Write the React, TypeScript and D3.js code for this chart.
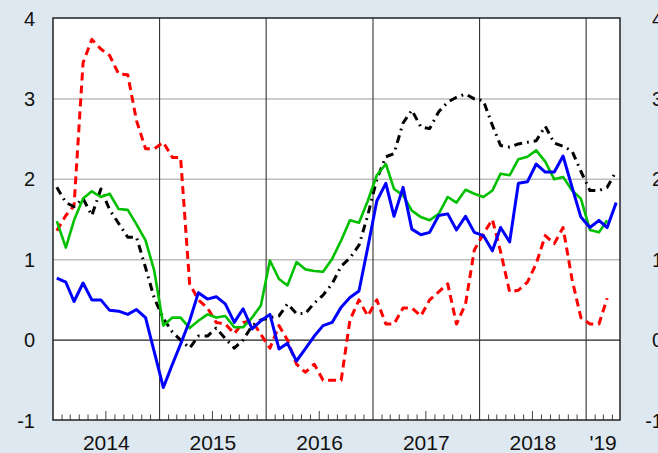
import { useEffect, useRef } from 'react'
import * as d3 from 'd3'

// monthly values, Jan 2014 onwards
const startYear = 2014
const redSeries = [
  1.36, 1.55, 1.67, 3.45, 3.74, 3.62, 3.54, 3.31, 3.3, 2.73, 2.38, 2.38,
  2.46, 2.27, 2.27, 0.7, 0.5, 0.4, 0.22, 0.2, 0.08, 0.22, 0.24, 0.07,
  -0.1, 0.18, 0.0, -0.3, -0.4, -0.3, -0.5, -0.5, -0.5, 0.25, 0.5, 0.3,
  0.5, 0.2, 0.2, 0.4, 0.4, 0.3, 0.5, 0.6, 0.7, 0.2, 0.45, 1.12,
  1.32, 1.5, 1.1, 0.6, 0.62, 0.72, 0.95, 1.3, 1.2, 1.4, 0.75, 0.28,
  0.2, 0.2, 0.52,
]
const blackSeries = [
  1.9, 1.71, 1.66, 1.76, 1.55, 1.88, 1.62, 1.45, 1.28, 1.28, 0.9, 0.52,
  0.27, 0.1, 0.0, -0.1, 0.05, 0.05, 0.15, 0.02, -0.1, 0.0, 0.18, 0.25,
  0.28, 0.3, 0.45, 0.33, 0.33, 0.46, 0.56, 0.7, 0.92, 1.02, 1.18, 1.55,
  2.0, 2.28, 2.32, 2.7, 2.86, 2.65, 2.63, 2.84, 2.96, 3.02, 3.06, 3.0,
  2.98, 2.67, 2.42, 2.4, 2.44, 2.46, 2.48, 2.66, 2.45, 2.41, 2.35, 2.1,
  1.86, 1.86, 1.9, 2.1,
]
const greenSeries = [
  1.48, 1.15, 1.49, 1.76, 1.85, 1.78, 1.82, 1.63, 1.62, 1.44, 1.24, 0.86,
  0.18, 0.28, 0.28, 0.15, 0.24, 0.32, 0.28, 0.3, 0.16, 0.16, 0.28, 0.43,
  0.99, 0.76, 0.68, 0.97, 0.88, 0.86, 0.85, 1.01, 1.24, 1.49, 1.46, 1.73,
  2.05, 2.19, 1.88, 1.8, 1.61, 1.53, 1.49, 1.57, 1.78, 1.71, 1.87, 1.82,
  1.78, 1.86, 2.07, 2.05, 2.25, 2.28, 2.36, 2.22, 2.0, 2.03, 1.86, 1.76,
  1.37, 1.34, 1.49,
]
const blueSeries = [
  0.77, 0.72, 0.48, 0.71, 0.5, 0.5, 0.37, 0.36, 0.32, 0.38, 0.28, -0.15,
  -0.59, -0.3, -0.05, 0.24, 0.59, 0.51, 0.54, 0.45, 0.22, 0.39, 0.14, 0.24,
  0.32, -0.11, -0.04, -0.26, -0.11, 0.05, 0.18, 0.22, 0.41, 0.53, 0.61, 1.15,
  1.73, 1.95, 1.54, 1.9, 1.38, 1.31, 1.34, 1.55, 1.57, 1.37, 1.54, 1.34,
  1.3, 1.11, 1.4, 1.22, 1.95, 1.97, 2.19, 2.09, 2.09, 2.29, 1.9, 1.53,
  1.4, 1.49, 1.4, 1.71,
]
const yTicks = [-1, 0, 1, 2, 3, 4]
const yearLabels = ['2014', '2015', '2016', '2017', '2018', "'19"]

const W = 658
const H = 453
const margin = { left: 53, right: 38, top: 18, bottom: 33 }

export default function App() {
  const svgRef = useRef<SVGSVGElement>(null)

  useEffect(() => {
    if (!svgRef.current) return
    const svg = d3.select(svgRef.current)
    svg.selectAll('*').remove()

    const x0 = margin.left
    const x1 = W - margin.right
    const y0 = margin.top
    const y1 = H - margin.bottom

    const start = new Date(startYear, 0, 1)
    const end = new Date(2019, 3, 27)
    const x = d3.scaleTime().domain([start, end]).range([x0, x1])
    const y = d3.scaleLinear().domain([-1, 4]).range([y1 + 0.5, y0 + 0.5])
    const monthDate = (i: number) => new Date(startYear, i, 14)

    svg.append('rect').attr('width', W).attr('height', H).attr('fill', '#dde8f0')
    svg.append('rect')
      .attr('x', x0).attr('y', y0)
      .attr('width', x1 - x0).attr('height', y1 - y0)
      .attr('fill', '#ffffff')

    // horizontal grid
    svg.selectAll('.grid')
      .data(yTicks.filter(v => v > -1 && v < 4))
      .enter()
      .append('line')
      .attr('x1', x0).attr('x2', x1)
      .attr('y1', d => y(d)).attr('y2', d => y(d))
      .attr('stroke', d => (d === 0 ? '#222' : '#bdbdbd'))
      .attr('stroke-width', d => (d === 0 ? 1.2 : 1.5))

    // year dividers
    const years = d3.timeYear.range(new Date(startYear + 1, 0, 1), end)
    svg.selectAll('.yr')
      .data(years)
      .enter()
      .append('line')
      .attr('x1', d => x(d)).attr('x2', d => x(d))
      .attr('y1', y0).attr('y2', y1)
      .attr('stroke', '#333')
      .attr('stroke-width', 1.1)

    // month ticks
    const months = d3.timeMonth.range(start, end).filter(d => d.getMonth() !== 0)
    svg.selectAll('.tick')
      .data(months)
      .enter()
      .append('line')
      .attr('x1', d => x(d)).attr('x2', d => x(d))
      .attr('y1', y1)
      .attr('y2', d => (d.getMonth() === 6 ? y1 - 9 : y1 - 5.5))
      .attr('stroke', '#444')
      .attr('stroke-width', 1)

    const line = d3.line<number>()
      .x((_, i) => x(monthDate(i)))
      .y(d => y(d))

    const series = [
      { values: redSeries, color: '#ff0000', width: 3, dash: '8,5' },
      { values: blackSeries, color: '#000000', width: 3, dash: '8,5,1.8,5' },
      { values: greenSeries, color: '#00c000', width: 2.6, dash: null },
      { values: blueSeries, color: '#0000ff', width: 3, dash: null },
    ]
    series.forEach(s => {
      svg.append('path')
        .datum(s.values)
        .attr('d', line)
        .attr('fill', 'none')
        .attr('stroke', s.color)
        .attr('stroke-width', s.width)
        .attr('stroke-dasharray', s.dash)
        .attr('stroke-linejoin', 'round')
    })

    // frame
    svg.append('rect')
      .attr('x', x0).attr('y', y0)
      .attr('width', x1 - x0).attr('height', y1 - y0)
      .attr('fill', 'none')
      .attr('stroke', '#222')
      .attr('stroke-width', 1.5)

    const font = '"Liberation Sans", Arial, sans-serif'

    // y labels, both sides
    svg.selectAll('.yl')
      .data(yTicks)
      .enter()
      .append('text')
      .attr('x', 35)
      .attr('y', d => y(d) + 7)
      .attr('text-anchor', 'end')
      .attr('font-family', font)
      .attr('font-size', 20)
      .attr('fill', '#111')
      .text(d => String(d))
    svg.selectAll('.yr-l')
      .data(yTicks)
      .enter()
      .append('text')
      .attr('x', 663)
      .attr('y', d => y(d) + 7)
      .attr('text-anchor', 'end')
      .attr('font-family', font)
      .attr('font-size', 20)
      .attr('fill', '#111')
      .text(d => String(d))

    // year labels
    svg.selectAll('.xl')
      .data(yearLabels)
      .enter()
      .append('text')
      .attr('x', (d, i) => {
        const a = new Date(startYear + i, 0, 1)
        const b = i === yearLabels.length - 1 ? end : new Date(startYear + i + 1, 0, 1)
        return (x(a) + x(b)) / 2
      })
      .attr('y', 450)
      .attr('text-anchor', 'middle')
      .attr('font-family', font)
      .attr('font-size', 21)
      .attr('fill', '#111')
      .text(d => d)
  }, [])

  return (
    <svg
      ref={svgRef}
      width={W}
      height={H}
      style={{ position: 'fixed', left: 0, top: 0 }}
    />
  )
}
